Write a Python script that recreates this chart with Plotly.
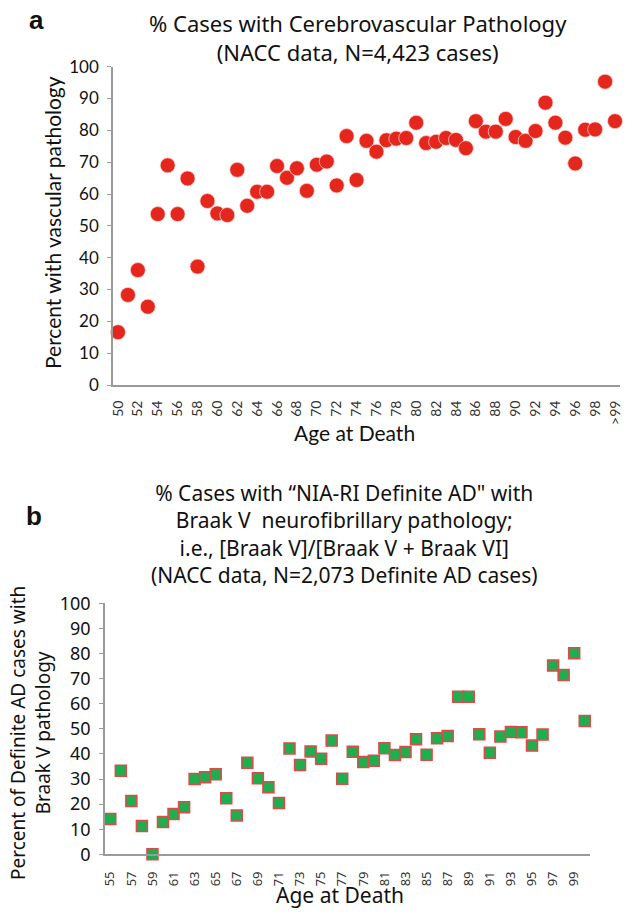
import plotly.graph_objects as go

W, H = 635, 921

# ---------------- data ----------------
ages_a = [str(a) for a in range(50, 100)] + [">99"]
vasc_pct = [16.6, 28.3, 36.1, 24.6, 53.7, 69.0, 53.7, 64.9, 37.2, 57.8,
            53.9, 53.4, 67.6, 56.3, 60.7, 60.7, 68.8, 65.1, 68.1, 61.0,
            69.2, 70.2, 62.7, 78.2, 64.4, 76.7, 73.3, 76.9, 77.4, 77.6,
            82.4, 76.0, 76.4, 77.6, 77.0, 74.4, 82.9, 79.6, 79.6, 83.6,
            77.9, 76.7, 79.8, 88.7, 82.4, 77.7, 69.6, 80.2, 80.3, 95.3, 82.9]
ticks_a = ["50", "52", "54", "56", "58", "60", "62", "64", "66", "68", "70",
           "72", "74", "76", "78", "80", "82", "84", "86", "88", "90", "92",
           "94", "96", "98", ">99"]

ages_b = [str(a) for a in range(55, 100)] + [">99"]
braak_pct = [14.1, 33.3, 21.2, 11.3, 0.0, 12.9, 16.1, 18.7, 30.0, 30.7,
             31.9, 22.3, 15.5, 36.5, 30.3, 26.7, 20.4, 42.2, 35.6, 41.0,
             38.1, 45.3, 30.1, 40.9, 36.8, 37.3, 42.3, 39.6, 40.8, 45.8,
             39.7, 46.2, 47.1, 62.8, 62.8, 47.8, 40.5, 46.9, 48.7, 48.6,
             43.3, 47.7, 75.2, 71.4, 80.1, 53.1]
ticks_b = ["55", "57", "59", "61", "63", "65", "67", "69", "71", "73", "75",
           "77", "79", "81", "83", "85", "87", "89", "91", "93", "95", "97", "99"]

yticks = [0, 10, 20, 30, 40, 50, 60, 70, 80, 90, 100]

title_a = ["% Cases with Cerebrovascular Pathology", "(NACC data, N=4,423 cases)"]
title_b = ["% Cases with \u201cNIA-RI Definite AD\" with",
           "Braak V  neurofibrillary pathology;",
           "i.e., [Braak V]/[Braak V + Braak VI]",
           "(NACC data, N=2,073 Definite AD cases)"]

# ---------------- helpers ----------------
def px(x):
    return x / W

def py(y):
    return 1 - y / H

FONT_A = "Lato, Carlito, sans-serif"
FONT_B = "Noto Sans, Open Sans, sans-serif"
AXC = "#9a9a9a"
TXT = "#111111"

fig = go.Figure()

fig.add_trace(go.Scatter(
    x=ages_a, y=vasc_pct, mode="markers", xaxis="x", yaxis="y",
    marker=dict(symbol="circle", size=15, color="#e4261d",
                line=dict(color="rgba(255,215,210,0.9)", width=0.8)),
    cliponaxis=False, showlegend=False))

fig.add_trace(go.Scatter(
    x=ages_b, y=braak_pct, mode="markers", xaxis="x2", yaxis="y2",
    marker=dict(symbol="square", size=11, color="#1fae4e",
                line=dict(color="#e2474a", width=1.5)),
    cliponaxis=False, showlegend=False))

common_x = dict(type="category", showline=True, linecolor=AXC, linewidth=2,
                ticks="", showgrid=False, zeroline=False, tickangle=-90,
                fixedrange=True, automargin=False)
common_y = dict(range=[0, 100], tickvals=yticks, showline=True, linecolor=AXC,
                linewidth=1.5, ticks="outside", ticklen=4, tickcolor=AXC,
                showgrid=False, zeroline=False, fixedrange=True,
                ticklabelstandoff=5, automargin=False)

fig.update_layout(
    width=W, height=H, margin=dict(l=0, r=0, t=0, b=0, autoexpand=False),
    paper_bgcolor="white", plot_bgcolor="white",
    xaxis=dict(common_x, domain=[px(113), px(620)], anchor="y",
               categoryorder="array", categoryarray=ages_a,
               range=[-0.5, len(ages_a) - 0.5],
               tickvals=ticks_a, ticktext=ticks_a, ticklabelstandoff=8,
               tickfont=dict(family=FONT_A, size=14, color="#333")),
    yaxis=dict(common_y, domain=[py(385), py(66.7)], anchor="x",
               tickfont=dict(family=FONT_A, size=17, color=TXT)),
    xaxis2=dict(common_x, domain=[px(105), px(590)], anchor="y2",
                categoryorder="array", categoryarray=ages_b,
                range=[-0.5, len(ages_b) - 0.5],
                tickvals=ticks_b, ticktext=ticks_b, ticklabelstandoff=10,
                tickfont=dict(family=FONT_B, size=13, color="#333")),
    yaxis2=dict(common_y, domain=[py(854.3), py(603.3)], anchor="x2",
                tickfont=dict(family=FONT_B, size=18, color=TXT)),
)

ann = []
def text(x, y, s, size, family, bold=False, angle=0, color=TXT):
    ann.append(dict(x=px(x), y=py(y), xref="paper", yref="paper", text=s,
                    showarrow=False, xanchor="center", yanchor="middle",
                    align="center", textangle=angle,
                    font=dict(family=family, size=size, color=color,
                              weight="bold" if bold else "normal")))

# panel letters
text(36, 20, "a", 26, "Liberation Sans, Arial, sans-serif", bold=True)
text(34, 516, "b", 26, "Liberation Sans, Arial, sans-serif", bold=True)

# titles (multi-line, centered)
text(358, 37, "<br>".join(title_a), 22, FONT_B)
text(344, 534, "<br>".join(title_b), 21, FONT_B)

# axis titles
text(52, 223, "Percent with vascular pathology", 21, FONT_A, angle=-90)
text(354, 432, "Age at Death", 21, FONT_A)
text(30, 733, "Percent of Definite AD cases with<br>Braak V pathology", 19,
     FONT_B, angle=-90)
text(340, 895, "Age at Death", 21, FONT_B)

fig.update_layout(annotations=ann)

fig.write_html("out.html",
               config={"displayModeBar": False},
               post_script="document.body.style.margin='0';"
                           "document.body.style.overflow='hidden';")
